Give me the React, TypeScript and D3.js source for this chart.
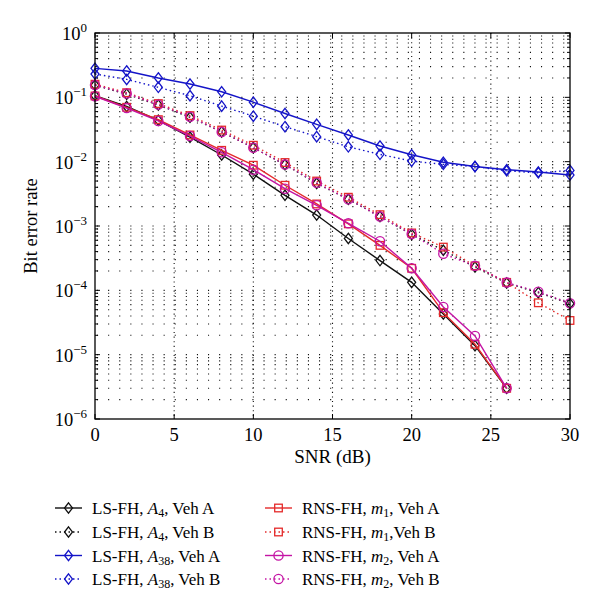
import React from "react";
import * as d3 from "d3";

const snr = [0, 2, 4, 6, 8, 10, 12, 14, 16, 18, 20, 22, 24, 26, 28, 30];
const snrShort = [0, 2, 4, 6, 8, 10, 12, 14, 16, 18, 20, 22, 24, 26];

const lsA4VehA = [0.106, 0.072, 0.044, 0.024, 0.0127, 0.0064, 0.003, 0.00148, 0.00064, 0.00029, 0.000133, 4.3e-5, 1.38e-5, 3.0e-6];
const lsA4VehB = [0.155, 0.112, 0.076, 0.049, 0.029, 0.0165, 0.009, 0.0046, 0.0026, 0.0014, 0.00074, 0.00042, 0.00023, 0.00013, 9.2e-5, 6.2e-5];
const lsA38VehA = [0.282, 0.257, 0.2, 0.161, 0.122, 0.084, 0.056, 0.038, 0.026, 0.0175, 0.0128, 0.0098, 0.0084, 0.0075, 0.0069, 0.0062];
const lsA38VehB = [0.23, 0.19, 0.143, 0.106, 0.073, 0.051, 0.035, 0.0245, 0.017, 0.013, 0.0102, 0.0091, 0.0084, 0.0072, 0.0067, 0.0073];
const rnsM1VehA = [0.105, 0.07, 0.045, 0.026, 0.015, 0.0088, 0.0043, 0.0022, 0.00108, 0.0005, 0.00022, 4.5e-5, 1.45e-5, 3.0e-6];
const rnsM1VehB = [0.16, 0.118, 0.08, 0.052, 0.031, 0.018, 0.0097, 0.005, 0.0028, 0.0015, 0.00078, 0.00047, 0.00024, 0.000133, 6.4e-5, 3.4e-5];
const rnsM2VehA = [0.104, 0.068, 0.043, 0.025, 0.014, 0.0075, 0.0038, 0.0021, 0.0011, 0.00058, 0.00022, 5.5e-5, 1.95e-5, 3.0e-6];
const rnsM2VehB = [0.155, 0.115, 0.077, 0.05, 0.029, 0.0165, 0.009, 0.0047, 0.0026, 0.0014, 0.00075, 0.00037, 0.00024, 0.000132, 9.5e-5, 6.3e-5];

const xTicks = [0, 5, 10, 15, 20, 25, 30];
const yExponents = [0, -1, -2, -3, -4, -5, -6];

const BLACK = "#111";
const BLUE = "#1414c8";
const RED = "#e42a2a";
const MAGENTA = "#c414a4";

type Series = {
  name: string;
  sub: string;
  sym: string;
  veh: string;
  x: number[];
  y: number[];
  color: string;
  dotted: boolean;
  marker: "diamond" | "square" | "circle";
  compact?: boolean;
};

const series: Series[] = [
  { name: "LS-FH", sym: "A", sub: "4", veh: "Veh A", x: snrShort, y: lsA4VehA, color: BLACK, dotted: false, marker: "diamond" },
  { name: "LS-FH", sym: "A", sub: "4", veh: "Veh B", x: snr, y: lsA4VehB, color: BLACK, dotted: true, marker: "diamond" },
  { name: "LS-FH", sym: "A", sub: "38", veh: "Veh A", x: snr, y: lsA38VehA, color: BLUE, dotted: false, marker: "diamond" },
  { name: "LS-FH", sym: "A", sub: "38", veh: "Veh B", x: snr, y: lsA38VehB, color: BLUE, dotted: true, marker: "diamond" },
  { name: "RNS-FH", sym: "m", sub: "1", veh: "Veh A", x: snrShort, y: rnsM1VehA, color: RED, dotted: false, marker: "square" },
  { name: "RNS-FH", sym: "m", sub: "1", veh: "Veh B", x: snr, y: rnsM1VehB, color: RED, dotted: true, marker: "square", compact: true },
  { name: "RNS-FH", sym: "m", sub: "2", veh: "Veh A", x: snrShort, y: rnsM2VehA, color: MAGENTA, dotted: false, marker: "circle" },
  { name: "RNS-FH", sym: "m", sub: "2", veh: "Veh B", x: snr, y: rnsM2VehB, color: MAGENTA, dotted: true, marker: "circle" },
];

const L = 95, R = 570, T = 33, B = 419;
const FONT = "'Liberation Serif', 'Times New Roman', serif";

function Marker({ type, cx, cy, color }: { type: string; cx: number; cy: number; color: string }) {
  if (type === "diamond") {
    const w = 4, h = 5.2;
    return <path d={`M${cx},${cy - h}L${cx + w},${cy}L${cx},${cy + h}L${cx - w},${cy}Z`} fill="none" stroke={color} strokeWidth={1.3} />;
  }
  if (type === "square") {
    return <rect x={cx - 3.8} y={cy - 3.8} width={7.6} height={7.6} fill="none" stroke={color} strokeWidth={1.3} />;
  }
  return <circle cx={cx} cy={cy} r={4.6} fill="none" stroke={color} strokeWidth={1.3} />;
}

export default function App() {
  const x = d3.scaleLinear().domain([0, 30]).range([L, R]);
  const y = d3.scaleLog().domain([1e-6, 1]).range([B, T]);
  const line = d3.line<[number, number]>().x((d) => x(d[0])).y((d) => y(d[1]));

  const minorVals: number[] = [];
  for (let e = -6; e < 0; e++) for (let m = 2; m <= 9; m++) minorVals.push(m * Math.pow(10, e));
  const majorVals = yExponents.map((e) => Math.pow(10, e));

  const legendRowsY = [508, 532, 555.5, 579];

  return (
    <svg width={600} height={610} style={{ position: "absolute", left: 0, top: 0, background: "#fff" }} fontFamily={FONT}>
      <rect x={0} y={0} width={600} height={610} fill="#fff" />
      {/* grid horizontal */}
      {[...minorVals, ...majorVals.filter((v) => v < 1 && v > 1e-6)].map((v, i) => (
        <line key={"hg" + i} x1={L + 2} x2={R} y1={y(v)} y2={y(v)} stroke="#111" strokeWidth={1.1} strokeDasharray="1.1 10" />
      ))}
      {/* grid vertical */}
      {xTicks.filter((t) => t > 0 && t < 30).map((t) => (
        <line key={"vg" + t} x1={x(t)} x2={x(t)} y1={T} y2={B} stroke="#111" strokeWidth={1.1} strokeDasharray="1.1 3.5" />
      ))}
      {/* ticks */}
      {xTicks.map((t) => (
        <g key={"xt" + t}>
          <line x1={x(t)} x2={x(t)} y1={B} y2={B - 5} stroke="#000" />
          <line x1={x(t)} x2={x(t)} y1={T} y2={T + 5} stroke="#000" />
          <text x={x(t)} y={441} textAnchor="middle" fontSize={18.5}>{t}</text>
        </g>
      ))}
      {minorVals.map((v, i) => (
        <g key={"ym" + i}>
          <line x1={L} x2={L + 3} y1={y(v)} y2={y(v)} stroke="#000" />
          <line x1={R} x2={R - 3} y1={y(v)} y2={y(v)} stroke="#000" />
        </g>
      ))}
      {yExponents.map((e) => {
        const yy = y(Math.pow(10, e));
        return (
          <g key={"ye" + e}>
            <line x1={L} x2={L + 5} y1={yy} y2={yy} stroke="#000" />
            <line x1={R} x2={R - 5} y1={yy} y2={yy} stroke="#000" />
            <text x={87} y={yy + 7} textAnchor="end" fontSize={18.5}>
              10<tspan fontSize={13} dy={-8}>{e === 0 ? "0" : "\u2212" + Math.abs(e)}</tspan>
            </text>
          </g>
        );
      })}
      {/* series */}
      {series.map((s, i) => {
        const pts = s.x.map((xv, j) => [xv, s.y[j]] as [number, number]);
        return (
          <g key={"s" + i}>
            <path d={line(pts) || ""} fill="none" stroke={s.color} strokeWidth={1.4} strokeDasharray={s.dotted ? "1.5 3" : undefined} />
            {pts.map((p, j) => (
              <Marker key={j} type={s.marker} cx={x(p[0])} cy={y(p[1])} color={s.color} />
            ))}
          </g>
        );
      })}
      {/* frame */}
      <rect x={L} y={T} width={R - L} height={B - T} fill="none" stroke="#000" strokeWidth={1.3} />
      {/* axis labels */}
      <text x={(L + R) / 2} y={463} textAnchor="middle" fontSize={19}>SNR (dB)</text>
      <text transform={`translate(37,${(T + B) / 2}) rotate(-90)`} textAnchor="middle" fontSize={18.5}>Bit error rate</text>
      {/* legend */}
      {series.map((s, i) => {
        const col = Math.floor(i / 4);
        const row = i % 4;
        const lx = col === 0 ? 55 : 265;
        const ly = legendRowsY[row];
        const tx = lx + 37;
        return (
          <g key={"lg" + i}>
            <line x1={lx} x2={lx + 27} y1={ly} y2={ly} stroke={s.color} strokeWidth={1.4} strokeDasharray={s.dotted ? "1.5 3" : undefined} />
            <Marker type={s.marker} cx={lx + 13.5} cy={ly} color={s.color} />
            <text x={tx} y={ly + 6} fontSize={17}>
              {s.name + ", "}
              <tspan fontStyle="italic">{s.sym}</tspan>
              <tspan fontSize={12} dy={3}>{s.sub}</tspan>
              <tspan dy={-3}>{(s.compact ? "," : ", ") + s.veh}</tspan>
            </text>
          </g>
        );
      })}
    </svg>
  );
}
